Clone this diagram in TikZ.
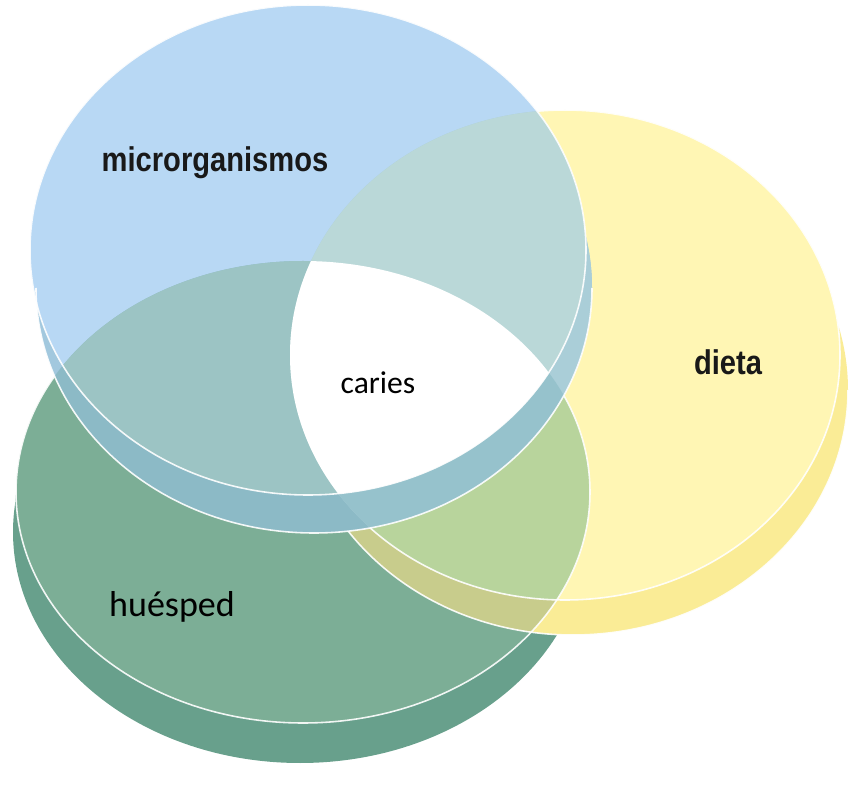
\documentclass[tikz,border=0pt]{standalone}
\usepackage{fontspec}
\usepackage{tikz}
\setmainfont{Carlito}
\newfontfamily\tagfont[FakeStretch=0.85]{Liberation Sans}

\definecolor{microtop}{RGB}{184,216,244}
\definecolor{microside}{RGB}{162,200,222}
\definecolor{dietatop}{RGB}{255,246,180}
\definecolor{dietaside}{RGB}{250,236,150}
\definecolor{huespedtop}{RGB}{124,174,150}
\definecolor{huespedside}{RGB}{104,160,140}
\definecolor{hdtop}{RGB}{184,212,156}
\definecolor{hdside}{RGB}{200,204,140}
\definecolor{mhtop}{RGB}{156,196,196}
\definecolor{mdtop}{RGB}{186,216,216}
\definecolor{mhside}{RGB}{140,186,198}
\definecolor{mdside}{RGB}{170,206,216}
\definecolor{mhdside}{RGB}{150,194,204}

% discs: top face and whole body (top, bottom and side)
\def\microtopface{(308,542) ellipse [x radius=278, y radius=245]}
\def\microbody{(308,542) ellipse [x radius=278, y radius=245] (314,504) ellipse [x radius=278, y radius=245] (30,542) -- (36,504) -- (592,504) -- (586,542) -- cycle}
\def\dietatopface{(565,437) ellipse [x radius=275, y radius=245]}
\def\dietabody{(565,437) ellipse [x radius=275, y radius=245] (573,402) ellipse [x radius=275, y radius=245] (290,437) -- (298,402) -- (848,402) -- (840,437) -- cycle}
\def\huespedtopface{(303,300) ellipse [x radius=287, y radius=231]}
\def\huespedbody{(303,300) ellipse [x radius=287, y radius=231] (300,260) ellipse [x radius=287, y radius=231] (16,300) -- (13,260) -- (587,260) -- (590,300) -- cycle}

\tikzset{
  rim/.style={draw=white, line width=0.9pt, opacity=0.9},
  bigtag/.style={font=\tagfont\bfseries\fontsize{19.5}{22}\selectfont, text=black!90},
  smalltag/.style={font=\fontsize{18}{21}\selectfont, text=black}
}

\begin{document}
\begin{tikzpicture}[x=0.02cm,y=0.02cm]
	\useasboundingbox (0,0) rectangle (856,792);

	% huesped and dieta
	\fill[huespedside] \huespedbody;
	\fill[huespedtop] \huespedtopface;
	\fill[dietaside] \dietabody;
	\fill[dietatop] \dietatopface;
	\begin{scope}
		\clip \huespedtopface;
		\fill[hdside] \dietabody;
		\fill[hdtop] \dietatopface;
	\end{scope}
	\draw[rim] \huespedtopface;
	\draw[rim] (298,402) arc [start angle=180, end angle=360, x radius=275, y radius=245];
	\draw[rim] \dietatopface;

	% microrganismos on top
	\fill[microside] \microbody;
	\fill[microtop] \microtopface;
	\begin{scope}
		\clip \microbody;
		\fill[mhside] \huespedtopface;
		\fill[mdside] \dietatopface;
		\clip \huespedtopface;
		\fill[mhdside] \dietatopface;
	\end{scope}
	\begin{scope}
		\clip \microtopface;
		\fill[mhtop] \huespedtopface;
		\fill[mdtop] \dietatopface;
		\clip \huespedtopface;
		\fill[white] \dietatopface;
	\end{scope}
	\draw[rim] \microtopface;
	\draw[rim] (36,504) arc [start angle=180, end angle=360, x radius=278, y radius=245];

	% labels
	\node[bigtag] (micro) at (215,629) {microrganismos};
	\node[bigtag] (dieta) at (728,430) {dieta};
	\node[smalltag] (caries) at (378,409) {caries};
	\node[smalltag, font=\fontsize{20.5}{23}\selectfont] (huesped) at (172,185) {huésped};
\end{tikzpicture}
\end{document}
